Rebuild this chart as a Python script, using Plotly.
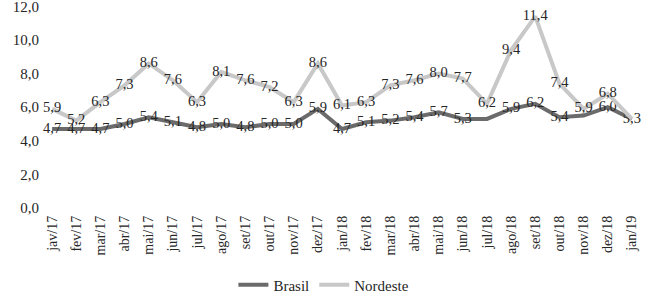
import plotly.graph_objects as go

months = ["jav/17","fev/17","mar/17","abr/17","mai/17","jun/17","jul/17","ago/17","set/17","out/17","nov/17","dez/17",
          "jan/18","fev/18","mar/18","abr/18","mai/18","jun/18","jul/18","ago/18","set/18","out/18","nov/18","dez/18","jan/19"]
brasil = [4.7,4.7,4.7,5.0,5.4,5.1,4.8,5.0,4.8,5.0,5.0,5.9,4.7,5.1,5.2,5.4,5.7,5.3,5.3,5.9,6.2,5.4,5.5,6.0,5.3]
nordeste = [5.9,5.2,6.3,7.3,8.6,7.6,6.3,8.1,7.6,7.2,6.3,8.6,6.1,6.3,7.3,7.6,8.0,7.7,6.2,9.4,11.4,7.4,5.9,6.8,5.3]
# labels hidden in the reference (overlapped)
brasil_hidden = {"jul/18", "nov/18"}
nordeste_hidden = {"jan/19"}
yticks = [0, 2, 4, 6, 8, 10, 12]

def fmt(v):
    return f"{v:.1f}".replace(".", ",")

font = "'Liberation Serif', 'DejaVu Serif', serif"
txtcol = "#262626"

fig = go.Figure()
fig.add_trace(go.Scatter(
    x=months, y=brasil, name="Brasil", mode="lines+text",
    line=dict(color="#6b6b6b", width=4), cliponaxis=False,
    text=["" if m in brasil_hidden else fmt(v) for m, v in zip(months, brasil)],
    textposition="middle center",
    textfont=dict(family=font, size=14.5, color=txtcol),
))
fig.add_trace(go.Scatter(
    x=months, y=nordeste, name="Nordeste", mode="lines+text",
    line=dict(color="#c8c8c8", width=4), cliponaxis=False,
    text=["" if m in nordeste_hidden else fmt(v) for m, v in zip(months, nordeste)],
    textposition="middle center",
    textfont=dict(family=font, size=14.5, color=txtcol),
))

fig.update_layout(
    width=650, height=293,
    margin=dict(l=40, r=6, t=6, b=85, autoexpand=False),
    paper_bgcolor="white", plot_bgcolor="white",
    font=dict(family=font, size=14, color=txtcol),
    showlegend=True,
    legend=dict(orientation="h", x=0.47, xanchor="center", y=-0.381, yanchor="middle",
                font=dict(family=font, size=15, color=txtcol), itemwidth=30),
    xaxis=dict(type="category", tickangle=-90, showgrid=False, showline=False, automargin=False,
               ticks="", ticklabelstandoff=4, tickfont=dict(family=font, size=14, color=txtcol),
               range=[-0.5, len(months) - 0.5]),
    yaxis=dict(range=[0, 12.02], tickvals=yticks, ticktext=[fmt(v) for v in yticks], automargin=False,
               showgrid=False, zeroline=False, showline=False, ticks="", ticklabeloverflow="allow",
               tickfont=dict(family=font, size=15, color=txtcol)),
)

fig.write_html("out.html", config={"displayModeBar": False},
               post_script="document.body.style.margin='0px';document.body.style.overflow='hidden';")
